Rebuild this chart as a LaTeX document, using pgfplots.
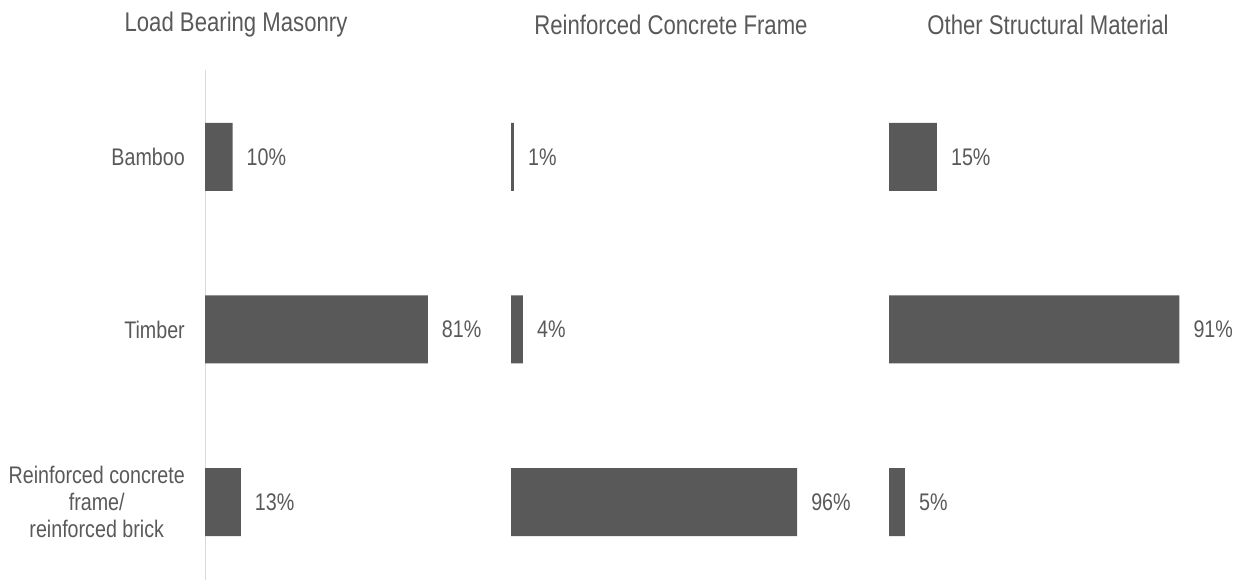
\documentclass[border=0pt]{standalone}
\usepackage{fontspec}
\setmainfont{Liberation Sans}[FakeStretch=0.82]
\usepackage{pgfplots}
\pgfplotsset{compat=1.18}
\definecolor{barc}{HTML}{595959}
\definecolor{txt}{HTML}{595959}
\definecolor{axl}{HTML}{D9D9D9}
\pgfplotsset{
  panel/.style={
    scale only axis, height=510pt, xmin=0, xmax=100,
    ymin=-0.504, ymax=2.452, y dir=reverse,
    xbar, bar width=68pt, clip=false,
    hide x axis,
    ytick={0,1,2}, major tick length=0pt,
    point meta=x,
    /pgf/number format/assume math mode=true,
    nodes near coords={\pgfmathprintnumber{\pgfplotspointmeta}\%},
    nodes near coords style={anchor=west, inner sep=0pt, xshift=14pt,
      font=\fontsize{24}{28}\selectfont, text=txt},
  },
}
\begin{document}
\begin{tikzpicture}
\useasboundingbox (0pt,0pt) rectangle (1241pt,583pt);
\begin{axis}[panel, at={(205pt,3pt)}, anchor=south west, width=275pt,
  axis y line=left, y axis line style={draw=axl, line width=1pt, -},
  yticklabels={Bamboo,Timber,{Reinforced concrete\\frame/\\reinforced brick}},
  yticklabel style={align=center, inner sep=0pt, xshift=-20pt,
    font=\fontsize{24}{27}\selectfont, text=txt}]
\addplot[fill=barc, draw=none] coordinates {(10,0) (81,1) (13,2)};
\end{axis}
\begin{axis}[panel, at={(511pt,3pt)}, anchor=south west, width=298pt,
  hide y axis]
\addplot[fill=barc, draw=none] coordinates {(1,0) (4,1) (96,2)};
\end{axis}
\begin{axis}[panel, at={(889pt,3pt)}, anchor=south west, width=319pt,
  hide y axis]
\addplot[fill=barc, draw=none] coordinates {(15,0) (91,1) (5,2)};
\end{axis}
\begin{scope}[every node/.style={font=\fontsize{27}{30}\selectfont, text=txt}]
\node at (236pt,558pt) {Load Bearing Masonry};
\node at (671pt,558pt) {Reinforced Concrete Frame};
\node at (1048pt,558pt) {Other Structural Material};
\end{scope}
\end{tikzpicture}
\end{document}
